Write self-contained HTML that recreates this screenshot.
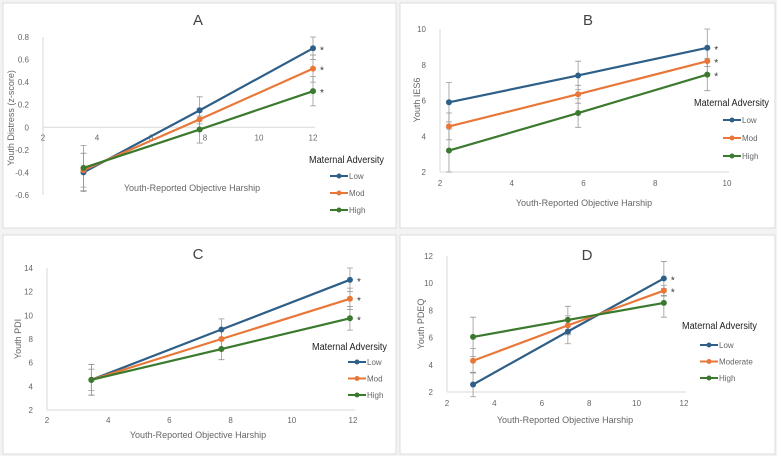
<!DOCTYPE html>
<html><head><meta charset="utf-8"><style>
html,body{margin:0;padding:0;background:#f3f3f3;}
svg{display:block;font-family:"Liberation Sans",sans-serif;}
</style></head><body>
<svg id="fig" width="777" height="456"></svg>
<script>
// Panel A data
const xA=[3.5,7.8,12];
const lowA=[-0.4,0.15,0.7], modA=[-0.38,0.07,0.52], highA=[-0.36,-0.02,0.32];
const errLowA=[0.17,0.12,0.1], errModA=[0.15,0.1,0.12], errHighA=[0.2,0.12,0.13];
const xTicksA=[2,4,6,8,10,12], yTicksA=[-0.6,-0.4,-0.2,0,0.2,0.4,0.6,0.8];
// Panel B data
const xB=[2.25,5.85,9.45];
const lowB=[5.9,7.4,8.95], modB=[4.55,6.35,8.2], highB=[3.2,5.3,7.45];
const errLowB=[1.1,0.8,1.05], errModB=[0.75,0.5,0.7], errHighB=[1.2,0.8,0.9];
const xTicksB=[2,4,6,8,10], yTicksB=[2,4,6,8,10];
// Panel C data
const xC=[3.45,7.7,11.9];
const lowC=[4.55,8.8,13.0], modC=[4.55,8.0,11.4], highC=[4.55,7.15,9.75];
const errLowC=[1.3,0.9,1.0], errModC=[0.9,0.8,0.9], errHighC=[1.3,0.9,1.0];
const xTicksC=[2,4,6,8,10,12], yTicksC=[2,4,6,8,10,12,14];
// Panel D data
const xD=[3.1,7.1,11.15];
const lowD=[2.55,6.45,10.35], modD=[4.3,6.9,9.45], highD=[6.05,7.3,8.55];
const errLowD=[0.9,0.9,1.25], errModD=[0.9,0.7,0.4], errHighD=[1.45,1.0,1.05];
const xTicksD=[2,4,6,8,10,12], yTicksD=[2,4,6,8,10,12];

const NS="http://www.w3.org/2000/svg";
const svg=document.getElementById('fig');
const COLORS=["#2e5f88","#e8783a","#3b7a2e"];
function mk(tag,attrs,parent,text){const e=document.createElementNS(NS,tag);for(const k in attrs)e.setAttribute(k,attrs[k]);if(text!==undefined)e.textContent=text;(parent||svg).appendChild(e);return e;}

function panel(cfg){
  const g=mk('g',{},svg);
  
  
  const bg=mk('rect',{x:cfg.box[0],y:cfg.box[1],width:cfg.box[2],height:cfg.box[3],fill:'#fff',stroke:'#dcdcdc','stroke-width':1},g);
  
  
  const sx=v=>cfg.px0+(v-cfg.xmin)/(cfg.xmax-cfg.xmin)*(cfg.px1-cfg.px0);
  const sy=v=>cfg.py0+(v-cfg.ymin)/(cfg.ymax-cfg.ymin)*(cfg.py1-cfg.py0);
  const t=mk('text',{x:cfg.titleX,y:cfg.titleY,'font-size':15,fill:'#444','text-anchor':'middle'},g,cfg.id);
  
  
  const ya=mk('line',{x1:sx(cfg.xmin),x2:sx(cfg.xmin),y1:sy(cfg.ymin),y2:sy(cfg.ymax),stroke:'#d9d9d9'},g);
  
  
  const axY=cfg.xAxisAt!==undefined?cfg.xAxisAt:cfg.ymin;
  const xa=mk('line',{x1:sx(cfg.xmin),x2:cfg.px1+2,y1:sy(axY),y2:sy(axY),stroke:'#d9d9d9'},g);
  
  
  cfg.yTicks.forEach(v=>{
    const l=mk('text',{x:sx(cfg.xmin)-14,y:sy(v)+3,'font-size':8,fill:'#666','text-anchor':'end'},g,String(v));
    
    
  });
  cfg.xTicks.forEach(v=>{
    const l=mk('text',{x:sx(v),y:sy(axY)+cfg.xLabOff,'font-size':8,fill:'#666','text-anchor':'middle'},g,String(v));
    
    
  });
  const xt=mk('text',{x:cfg.xtX,y:cfg.xtY,'font-size':9,fill:'#666','text-anchor':'middle'},g,'Youth-Reported Objective Harship');
  
  
  const yt=mk('text',{x:0,y:0,'font-size':9,fill:'#666','text-anchor':'middle',transform:`translate(${cfg.ytX},${cfg.ytY}) rotate(-90)`},g,cfg.yTitle);
  
  
  cfg.series.forEach((s,si)=>{
    cfg.xs.forEach((xv,i)=>{
      const x=sx(xv),y1=sy(s[i]+cfg.errs[si][i]),y2=sy(s[i]-cfg.errs[si][i]);
      const eb=mk('path',{d:`M${x},${y1}V${y2}M${x-3},${y1}H${x+3}M${x-3},${y2}H${x+3}`,stroke:'#999','stroke-width':0.8,fill:'none'},g);
      
      
    });
  });
  const names=['low','mod','high'];
  cfg.series.forEach((s,si)=>{
    const pts=cfg.xs.map((xv,i)=>sx(xv)+','+sy(s[i])).join(' ');
    const pl=mk('polyline',{points:pts,fill:'none',stroke:COLORS[si],'stroke-width':2.2},g);
    
    
    cfg.xs.forEach((xv,i)=>{
      const c=mk('circle',{cx:sx(xv),cy:sy(s[i]),r:3,fill:COLORS[si]},g);
      
      
    });
    if(cfg.stars[si]){
      const st=mk('text',{x:sx(cfg.xs[2])+7,y:sy(s[2])+5,'font-size':10,fill:'#333'},g,'*');
      
      
    }
  });
  const lt=mk('text',{x:cfg.lgX,y:cfg.lgY,'font-size':10,fill:'#222',textLength:75,lengthAdjust:'spacingAndGlyphs'},g,'Maternal Adversity');
  
  
  cfg.labels.forEach((lab,i)=>{
    const y=cfg.lgEY+i*cfg.lgStep;
    const e=mk('g',{},g);
    
    
    mk('line',{x1:cfg.lgLX,x2:cfg.lgLX+18,y1:y,y2:y,stroke:COLORS[i],'stroke-width':2},e);
    mk('circle',{cx:cfg.lgLX+9,cy:y,r:2.5,fill:COLORS[i]},e);
    mk('text',{x:cfg.lgLX+19,y:y+3,'font-size':8,fill:'#666'},e,lab);
  });
}

panel({id:'A',box:[3,3,393,225],xmin:2,xmax:12,ymin:-0.6,ymax:0.8,px0:43,px1:313,py0:195,py1:37,
  xAxisAt:0,xLabOff:13,xTicks:xTicksA,yTicks:yTicksA,titleX:198,titleY:25,xtX:192,xtY:191,ytX:14,ytY:118,
  yTitle:'Youth Distress (z-score)',xs:xA,series:[lowA,modA,highA],errs:[errLowA,errModA,errHighA],stars:[1,1,1],
  lgX:309,lgY:163,lgEY:176,lgStep:17,lgLX:330,labels:['Low','Mod','High']});
panel({id:'B',box:[400,3,375,225],xmin:2,xmax:10,ymin:2,ymax:10,px0:440,px1:727,py0:172,py1:29,
  xLabOff:14,xTicks:xTicksB,yTicks:yTicksB,titleX:588,titleY:25,xtX:584,xtY:206,ytX:420,ytY:100,
  yTitle:'Youth IES6',xs:xB,series:[lowB,modB,highB],errs:[errLowB,errModB,errHighB],stars:[1,1,1],
  lgX:694,lgY:106,lgEY:120,lgStep:18,lgLX:723,labels:['Low','Mod','High']});
panel({id:'C',box:[3,235,393,219],xmin:2,xmax:12,ymin:2,ymax:14,px0:47,px1:353,py0:410,py1:268,
  xLabOff:13,xTicks:xTicksC,yTicks:yTicksC,titleX:198,titleY:259,xtX:198,xtY:438,ytX:21,ytY:339,
  yTitle:'Youth PDI',xs:xC,series:[lowC,modC,highC],errs:[errLowC,errModC,errHighC],stars:[1,1,1],
  lgX:312,lgY:350,lgEY:362,lgStep:16.5,lgLX:348,labels:['Low','Mod','High']});
panel({id:'D',box:[400,235,375,219],xmin:2,xmax:12,ymin:2,ymax:12,px0:447,px1:684,py0:392,py1:256,
  xLabOff:14,xTicks:xTicksD,yTicks:yTicksD,titleX:587,titleY:260,xtX:565,xtY:423,ytX:424,ytY:324,
  yTitle:'Youth PDEQ',xs:xD,series:[lowD,modD,highD],errs:[errLowD,errModD,errHighD],stars:[1,1,0],
  lgX:682,lgY:329,lgEY:345,lgStep:16.5,lgLX:700,labels:['Low','Moderate','High']});
</script>
</body></html>
